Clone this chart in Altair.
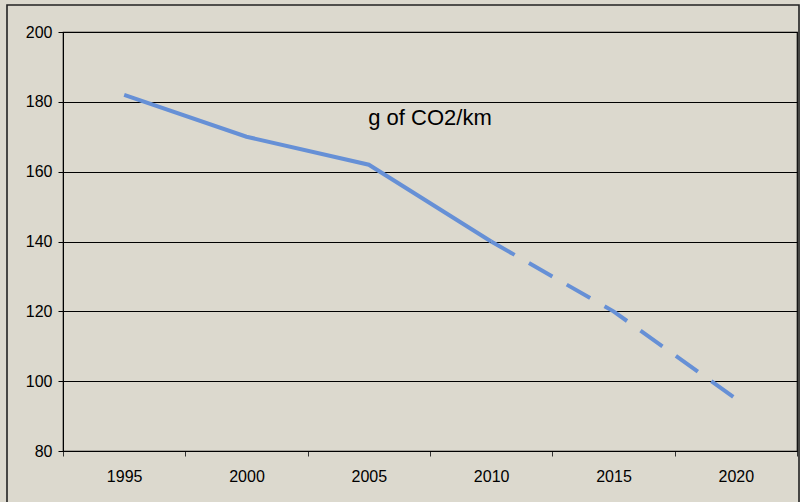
import altair as alt
import pandas as pd

# Average new-car CO2 emissions, measured to 2010 and projected to 2020
years = [1995, 2000, 2005, 2010, 2015, 2020]
co2 = [182, 170, 162, 140, 120, 95]
phase = ["actual", "actual", "actual", "actual", "target", "target"]

y_ticks = [80, 100, 120, 140, 160, 180, 200]
label_text = "g of CO2/km"

BG = "#dcd9ce"
LINE = "#6690d6"
FONT = "Liberation Sans"

W, H = 734, 419
BAND = W / len(years)

rows = []
for yr, v, p in zip(years, co2, phase):
    rows.append({"year": yr, "co2": v, "segment": p})
# the projected segment starts from the last measured point
last_actual = max(i for i, p in enumerate(phase) if p == "actual")
rows.append({"year": years[last_actual], "co2": co2[last_actual], "segment": "target"})
df = pd.DataFrame(rows)

# category boundaries between the plotted years
bounds = [years[0] - 2.5 + 5 * i for i in range(len(years) + 1)]

x = alt.X(
    "year:Q",
    scale=alt.Scale(domain=[bounds[0], bounds[-1]], nice=False, zero=False),
    axis=alt.Axis(
        values=bounds,
        labelExpr=f"datum.value < {bounds[-1]} ? '' + (datum.value + 2.5) : ''",
        labelOffset=BAND / 2,
        labelAlign="center",
        labelFlush=False,
        labelOverlap=False,
        labelPadding=12,
        tickSize=5,
        tickColor="#333333",
        domainColor="#000000",
        grid=False,
        title=None,
    ),
)
y = alt.Y(
    "co2:Q",
    scale=alt.Scale(domain=[y_ticks[0], y_ticks[-1]], nice=False, zero=False),
    axis=alt.Axis(
        values=y_ticks,
        tickSize=5,
        tickColor="#000000",
        domainColor="#000000",
        gridColor="#000000",
        gridWidth=1,
        gridOpacity=1,
        labelPadding=6,
        title=None,
    ),
)

base = alt.Chart(df)

solid = base.mark_line(color=LINE, strokeWidth=4, strokeCap="butt").encode(
    x=x, y=y
).transform_filter(alt.datum.segment == "actual")

dashed = base.mark_line(
    color=LINE, strokeWidth=4, strokeDash=[27, 16.5], strokeCap="butt"
).encode(x=x, y=y).transform_filter(alt.datum.segment == "target")

label = alt.Chart(alt.Data(values=[{"t": label_text}])).mark_text(
    font=FONT, fontSize=22, color="#000000", align="center", baseline="middle"
).encode(text="t:N", x=alt.value(367), y=alt.value(86))

frame = alt.Chart(alt.Data(values=[{}])).mark_rect(
    filled=False, stroke="#222222", strokeWidth=1.6
).encode(x=alt.value(-56), x2=alt.value(736), y=alt.value(-27), y2=alt.value(480))

chart = alt.layer(frame, solid, dashed, label).properties(
    width=W,
    height=H,
    autosize=alt.AutoSizeParams(type="none"),
    padding={"left": 63, "top": 32, "right": 3, "bottom": 51},
).configure(
    background=BG,
).configure_view(
    fill=BG, stroke="#000000", strokeWidth=1.2
).configure_axis(
    labelFont=FONT, labelFontSize=16, labelColor="#000000"
)

chart.save("out.html", embed_options={"renderer": "svg", "actions": False})
